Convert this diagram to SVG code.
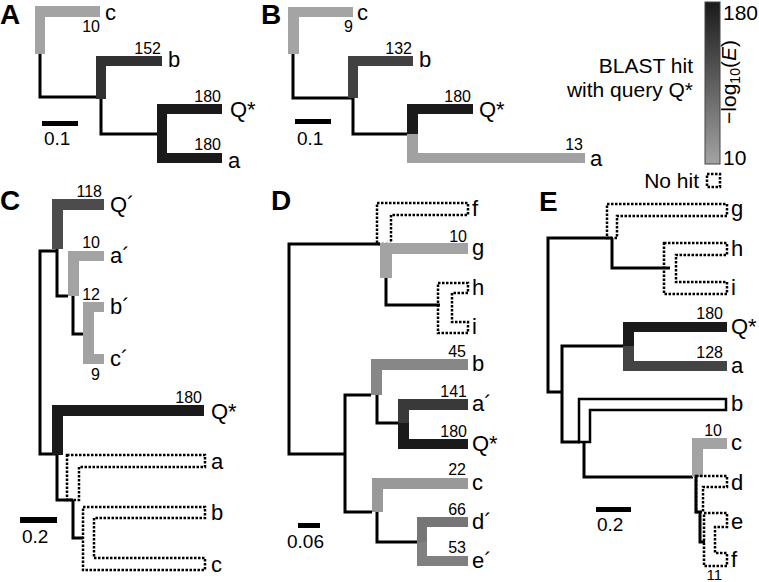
<svg xmlns="http://www.w3.org/2000/svg" width="759" height="582" viewBox="0 0 759 582">
<defs>
<linearGradient id="grad" x1="0" y1="0" x2="0" y2="1">
<stop offset="0" stop-color="#1a1a1a"/>
<stop offset="1" stop-color="#a3a3a3"/>
</linearGradient>
</defs>
<style>
text{font-family:"Liberation Sans",Arial,sans-serif;fill:#000}
.pl{font-size:28px;font-weight:bold}
.lf{font-size:22px}
.lg{font-size:21px}
.nm{font-size:16px;text-anchor:end}
.sc{font-size:19px}
.ln{fill:none;stroke:#000;stroke-width:3;stroke-linejoin:miter;stroke-linecap:butt}
.dt{fill:none;stroke:#000;stroke-width:2.5;stroke-dasharray:2.5 1.5}
</style>
<rect width="759" height="582" fill="#fff"/>

<!-- Panel A -->
<g id="panelA">
<text class="pl" x="0" y="24">A</text>
<g class="connectors">
<path class="ln" d="M40,54 V97 H101"/>
<path class="ln" d="M101,99 V134 H157"/>
</g>
<g id="A_c"><path d="M35,6 H100 V17 H45 V54 H35 Z" fill="#a3a3a3"/><text class="lf" x="105" y="20">c</text><text class="nm" x="100" y="32">10</text></g>
<g id="A_b"><path d="M96,56 H162 V66 H106 V99 H96 Z" fill="#313131"/><text class="lf" x="168" y="67">b</text><text class="nm" x="161" y="54">152</text></g>
<g id="A_Qa"><path d="M157,104 H222 V114 H167 V153 H222 V163 H157 Z" fill="#1a1a1a"/>
<text class="lf" x="230" y="117">Q*</text><text class="nm" x="221" y="102">180</text>
<text class="lf" x="228" y="168">a</text><text class="nm" x="221" y="150">180</text></g>
<g id="A_scale"><rect x="42" y="121" width="36" height="5" fill="#000"/><text class="sc" x="44" y="145">0.1</text></g>
</g>

<!-- Panel B -->
<g id="panelB">
<text class="pl" x="261" y="24">B</text>
<g class="connectors">
<path class="ln" d="M293,54 V98 H353"/>
<path class="ln" d="M353,98 V134 H407"/>
</g>
<g id="B_c"><path d="M288,7 H353 V17 H299 V54 H288 Z" fill="#a4a4a4"/><text class="lf" x="357" y="20">c</text><text class="nm" x="353" y="32">9</text></g>
<g id="B_b"><path d="M348,56 H413 V66 H358 V98 H348 Z" fill="#414141"/><text class="lf" x="419" y="67">b</text><text class="nm" x="412" y="54">132</text></g>
<g id="B_Q"><path d="M407,104 H473 V114 H418 V134 H407 Z" fill="#1a1a1a"/><text class="lf" x="479" y="117">Q*</text><text class="nm" x="471" y="102">180</text></g>
<g id="B_a"><path d="M407,134 H418 V153 H585 V163 H407 Z" fill="#a1a1a1"/><text class="lf" x="590" y="166">a</text><text class="nm" x="583" y="150">13</text></g>
<g id="B_scale"><rect x="295" y="119" width="36" height="5" fill="#000"/><text class="sc" x="297" y="145">0.1</text></g>
</g>

<!-- Legend -->
<g id="legend">
<rect x="705" y="2" width="15" height="162" fill="url(#grad)" stroke="#444" stroke-width="1"/>
<text class="lg" x="723" y="20">180</text>
<text class="lg" x="723" y="165">10</text>
<text class="lg" transform="translate(736,82) rotate(-90)" text-anchor="middle">−log<tspan font-size="14" dy="4">10</tspan><tspan dy="-4">(</tspan><tspan font-style="italic">E</tspan>)</text>
<text class="lg" x="693" y="73" text-anchor="end">BLAST hit</text>
<text class="lg" x="693" y="97" text-anchor="end">with query Q*</text>
<text class="lg" x="699" y="188" text-anchor="end">No hit</text>
<rect class="dt" x="707" y="174" width="13" height="13"/>
</g>

<!-- Panel C -->
<g id="panelC">
<text class="pl" x="0" y="210">C</text>
<g class="connectors">
<path class="ln" d="M57,251 H40 V454 H57"/>
<path class="ln" d="M57,249 V296 H68"/>
<path class="ln" d="M73,296 V334 H83"/>
<path class="ln" d="M57,455 V500 H73"/>
<path class="ln" d="M73,500 V538 H83"/>
</g>
<g id="C_Qp"><path d="M52,199 H104 V210 H63 V249 H52 Z" fill="#4c4c4c"/><text class="lf" x="110" y="212">Q´</text><text class="nm" x="102" y="197">118</text></g>
<g id="C_ap"><path d="M68,251 H104 V261 H79 V296 H68 Z" fill="#a3a3a3"/><text class="lf" x="110" y="263">a´</text><text class="nm" x="100" y="248">10</text></g>
<g id="C_bpcp"><path d="M83,302 H104 V312 H94 V354 H104 V364 H83 Z" fill="#a2a2a2"/>
<text class="lf" x="110" y="314">b´</text><text class="nm" x="100" y="300">12</text>
<text class="lf" x="110" y="366">c´</text><text class="nm" x="100" y="380">9</text></g>
<g id="C_Q"><path d="M52,405 H204 V416 H63 V455 H52 Z" fill="#1a1a1a"/><text class="lf" x="211" y="419">Q*</text><text class="nm" x="202" y="403">180</text></g>
<g id="C_a"><path class="dt" d="M67,455 H205 V467 H79 V500 H67 Z"/><text class="lf" x="211" y="469">a</text></g>
<g id="C_bc"><path class="dt" d="M83,507 H205 V518 H94 V558 H205 V570 H83 Z"/>
<text class="lf" x="211" y="520">b</text><text class="lf" x="211" y="572">c</text></g>
<g id="C_scale"><rect x="20" y="517" width="37" height="6" fill="#000"/><text class="sc" x="22" y="543">0.2</text></g>
</g>

<!-- Panel D -->
<g id="panelD">
<text class="pl" x="271" y="210">D</text>
<g class="connectors">
<path class="ln" d="M380,244 H289 V454 H345"/>
<path class="ln" d="M386,278 V305 H440"/>
<path class="ln" d="M371,395 H345 V512 H372"/>
<path class="ln" d="M377,395 V423 H398"/>
<path class="ln" d="M377,512 V542 H417"/>
</g>
<g id="D_f"><path class="dt" d="M377,203 H468 V215 H391 V244 H377 Z"/><text class="lf" x="472" y="216">f</text></g>
<g id="D_g"><path d="M380,243 H468 V254 H392 V278 H380 Z" fill="#a3a3a3"/><text class="lf" x="472" y="255">g</text><text class="nm" x="467" y="242">10</text></g>
<g id="D_hi"><path class="dt" d="M438,283 H468 V293 H452 V322 H468 V333 H438 Z"/>
<text class="lf" x="472" y="295">h</text><text class="lf" x="472" y="334">i</text></g>
<g id="D_b"><path d="M371,359 H468 V370 H382 V395 H371 Z" fill="#878787"/><text class="lf" x="472" y="371">b</text><text class="nm" x="466" y="357">45</text></g>
<g id="D_apQ"><path d="M398,399 H468 V410 H409 V423 H398 Z" fill="#393939"/><path d="M398,423 H409 V439 H468 V449 H398 Z" fill="#1a1a1a"/>
<text class="lf" x="472" y="411">a´</text><text class="nm" x="467" y="397">141</text>
<text class="lf" x="472" y="451">Q*</text><text class="nm" x="467" y="437">180</text></g>
<g id="D_c"><path d="M372,478 H468 V489 H383 V512 H372 Z" fill="#999999"/><text class="lf" x="472" y="490">c</text><text class="nm" x="466" y="475">22</text></g>
<g id="D_dpep"><path d="M417,517 H468 V527 H427 V542 H417 Z" fill="#767676"/><path d="M417,542 H427 V556 H468 V566 H417 Z" fill="#808080"/>
<text class="lf" x="472" y="529">d´</text><text class="nm" x="466" y="515">66</text>
<text class="lf" x="472" y="568">e´</text><text class="nm" x="466" y="553">53</text></g>
<g id="D_scale"><rect x="298" y="523" width="22" height="5" fill="#000"/><text class="sc" x="287" y="548">0.06</text></g>
</g>

<!-- Panel E -->
<g id="panelE">
<text class="pl" x="539" y="211">E</text>
<g class="connectors">
<path class="ln" d="M612,238 H548 V392 H562"/>
<path class="ln" d="M612,238 V268 H670"/>
<path class="ln" d="M623,346 H562 V442 H580"/>
<path class="ln" d="M584,442 V477 H693"/>
<path class="ln" d="M696,477 V512 H700 V542 H705"/>
</g>
<g id="E_g"><path class="dt" d="M607,204 H727 V216 H617 V238 H607 Z"/><text class="lf" x="731" y="216">g</text></g>
<g id="E_hi"><path class="dt" d="M664,243 H727 V255 H676 V282 H727 V294 H664 Z"/>
<text class="lf" x="731" y="256">h</text><text class="lf" x="731" y="295">i</text></g>
<g id="E_Qa"><path d="M623,322 H727 V332 H634 V346 H623 Z" fill="#1a1a1a"/><path d="M623,346 H634 V361 H727 V371 H623 Z" fill="#444444"/>
<text class="lf" x="731" y="334">Q*</text><text class="nm" x="723" y="319">180</text>
<text class="lf" x="731" y="373">a</text><text class="nm" x="723" y="358">128</text></g>
<g id="E_b"><path d="M579,399 H726 V410 H590 V442 H579 Z" fill="#fff" stroke="#000" stroke-width="2.5"/><text class="lf" x="731" y="411">b</text></g>
<g id="E_c"><path d="M692,438 H727 V449 H703 V477 H692 Z" fill="#a3a3a3"/><text class="lf" x="731" y="450">c</text><text class="nm" x="722" y="436">10</text></g>
<g id="E_d"><path class="dt" d="M696,476 H727 V487 H703 V512 H696 Z"/><text class="lf" x="731" y="490">d</text></g>
<g id="E_ef"><path class="dt" d="M704,513 H727 V527 H715 V553 H727 V566 H704 Z"/>
<text class="lf" x="731" y="529">e</text><text class="lf" x="731" y="567">f</text><text class="nm" x="722" y="580" style="font-size:15px">11</text></g>
<g id="E_scale"><rect x="596" y="507" width="35" height="5" fill="#000"/><text class="sc" x="597" y="531">0.2</text></g>
</g>
</svg>
